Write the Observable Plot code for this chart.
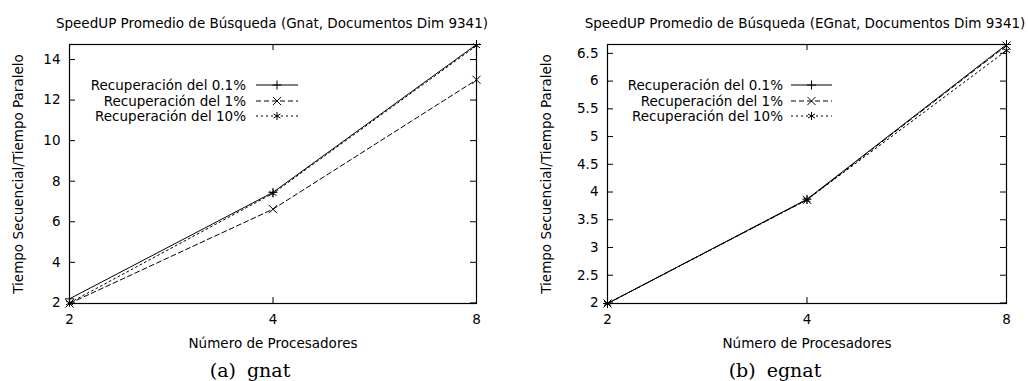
<!DOCTYPE html>
<html><head><meta charset="utf-8">
<script src="https://cdn.jsdelivr.net/npm/d3@7"></script>
<script src="https://cdn.jsdelivr.net/npm/@observablehq/plot@0.6"></script>
<style>
body{margin:0;background:#fff;}
#root{position:relative;width:1028px;height:381px;overflow:hidden;font-family:"DejaVu Sans",sans-serif;color:#000;}
.panel{position:absolute;top:0;width:514px;height:381px;}
.title{position:absolute;top:0;height:36px;box-sizing:border-box;padding-top:15px;font-size:13.5px;line-height:16px;white-space:nowrap;transform:translateX(-50%);}
.plot{position:absolute;top:36px;left:0;}
.caption{position:absolute;top:352px;height:29px;box-sizing:border-box;padding-top:7px;font-family:"DejaVu Serif",serif;font-size:19px;line-height:22px;white-space:nowrap;transform:translateX(-50%);word-spacing:5px;}
.legend{position:absolute;top:0;left:0;pointer-events:none;}
</style></head><body><div id="root"></div>
<script>
// ---- data ----
const procesadores = [2, 4, 8];
const seriesNames = ["Recuperación del 0.1%", "Recuperación del 1%", "Recuperación del 10%"];
const gnat01 = [2.2, 7.45, 14.74];
const gnat1 = [1.97, 6.62, 13.0];
const gnat10 = [2.0, 7.4, 14.68];
const egnat01 = [1.99, 3.87, 6.66];
const egnat1 = [1.99, 3.86, 6.64];
const egnat10 = [1.99, 3.86, 6.55];
const xTicks = [2, 4, 8];
const yTicksGnat = [2, 4, 6, 8, 10, 12, 14];
const yTicksEgnat = [2, 2.5, 3, 3.5, 4, 4.5, 5, 5.5, 6, 6.5];
const titles = ["SpeedUP Promedio de Búsqueda (Gnat, Documentos Dim 9341)", "SpeedUP Promedio de Búsqueda (EGnat, Documentos Dim 9341)"];
const captions = ["(a) gnat", "(b) egnat"];
const xLabel = "Número de Procesadores";
const yLabel = "Tiempo Secuencial/Tiempo Paralelo";

// ---- styles ----
const FS = 13.5;
const seriesStyle = [
  {symbol: "plus", type: d3.symbolPlus, r: 3, dash: null},
  {symbol: "times", type: d3.symbolTimes, r: 3.8, dash: "5,3"},
  {symbol: "asterisk", type: d3.symbolAsterisk, r: 3.8, dash: "2,3"}
];
const panels = [
  {left: 0, marginLeft: 69, marginRight: 38, labelOffset: 56, yTicks: yTicksGnat, values: [gnat01, gnat1, gnat10],
   legendRight: 246, sx1: 256, sx2: 298, rows: [85, 101, 116], captionX: 250, titleX: 272},
  {left: 514, marginLeft: 93, marginRight: 22, labelOffset: 66, yTicks: yTicksEgnat, values: [egnat01, egnat1, egnat10],
   legendRight: 269, sx1: 277, sx2: 318, rows: [85, 101, 116], captionX: 261, titleX: 291}
];

const W = 514, H = 316, MT = 8, MB = 49;
const root = document.getElementById("root");

panels.forEach((cfg, pi) => {
  const panel = document.createElement("div");
  panel.className = "panel";
  panel.style.left = cfg.left + "px";
  root.appendChild(panel);

  const plotW = W - cfg.marginLeft - cfg.marginRight;
  const plotH = H - MT - MB;

  const title = document.createElement("div");
  title.className = "title";
  title.style.left = cfg.titleX + "px";
  title.textContent = titles[pi];
  panel.appendChild(title);

  const tables = cfg.values.map((vals, si) => procesadores.map((p, i) => ({p, v: vals[i], s: seriesNames[si]})));
  const allV = cfg.values.flat();

  const marks = [
    Plot.frame({stroke: "black", strokeWidth: 1.2}),
    Plot.tickY(cfg.yTicks, {y: d => d, insetRight: plotW - 6, stroke: "black"}),
    Plot.tickY(cfg.yTicks, {y: d => d, insetLeft: plotW - 6, stroke: "black"}),
    Plot.tickX(xTicks, {x: d => d, insetTop: plotH - 6, stroke: "black"}),
    Plot.tickX(xTicks, {x: d => d, insetBottom: plotH - 6, stroke: "black"}),
    Plot.axisY(cfg.yTicks, {tickSize: 0, tickPadding: 9, tickFormat: d => String(d), label: yLabel, labelAnchor: "center", labelOffset: cfg.labelOffset, labelArrow: "none", fontSize: FS}),
    Plot.axisX(xTicks, {tickSize: 0, tickPadding: 11, tickFormat: d => String(d), label: xLabel, labelAnchor: "center", labelOffset: 44, labelArrow: "none", fontSize: FS})
  ];
  tables.forEach((t, si) => {
    const st = seriesStyle[si];
    marks.push(Plot.line(t, {x: "p", y: "v", stroke: "black", strokeWidth: 1, strokeDasharray: st.dash}));
  });
  tables.forEach((t, si) => {
    const st = seriesStyle[si];
    marks.push(Plot.dot(t, {x: "p", y: "v", symbol: st.symbol, r: st.r, stroke: "black", strokeWidth: 1}));
  });

  const chart = Plot.plot({
    width: W, height: H, marginTop: MT, marginBottom: MB,
    marginLeft: cfg.marginLeft, marginRight: cfg.marginRight,
    style: {fontFamily: "DejaVu Sans, sans-serif", fontSize: FS + "px", color: "black", background: "white"},
    x: {type: "log", base: 2, domain: d3.extent(procesadores)},
    y: {domain: d3.extent(allV)},
    marks
  });
  chart.classList.add("plot");
  panel.appendChild(chart);

  // legend (inside frame, as in the reference)
  const lg = d3.select(panel).append("svg")
    .attr("class", "legend").attr("width", W).attr("height", 381)
    .attr("font-family", "DejaVu Sans, sans-serif").attr("font-size", FS);
  seriesNames.forEach((name, si) => {
    const st = seriesStyle[si];
    const y = cfg.rows[si];
    lg.append("text").attr("x", cfg.legendRight).attr("y", y).attr("dy", "0.35em")
      .attr("text-anchor", "end").attr("fill", "black").text(name);
    lg.append("line").attr("x1", cfg.sx1).attr("x2", cfg.sx2).attr("y1", y).attr("y2", y)
      .attr("stroke", "black").attr("stroke-width", 1).attr("stroke-dasharray", st.dash);
    lg.append("path").attr("transform", `translate(${(cfg.sx1 + cfg.sx2) / 2},${y})`)
      .attr("d", d3.symbol(st.type, Math.PI * st.r * st.r)()).attr("fill", "none")
      .attr("stroke", "black").attr("stroke-width", 1);
  });

  const cap = document.createElement("div");
  cap.className = "caption";
  cap.style.left = cfg.captionX + "px";
  cap.textContent = captions[pi];
  panel.appendChild(cap);
});
</script></body></html>
